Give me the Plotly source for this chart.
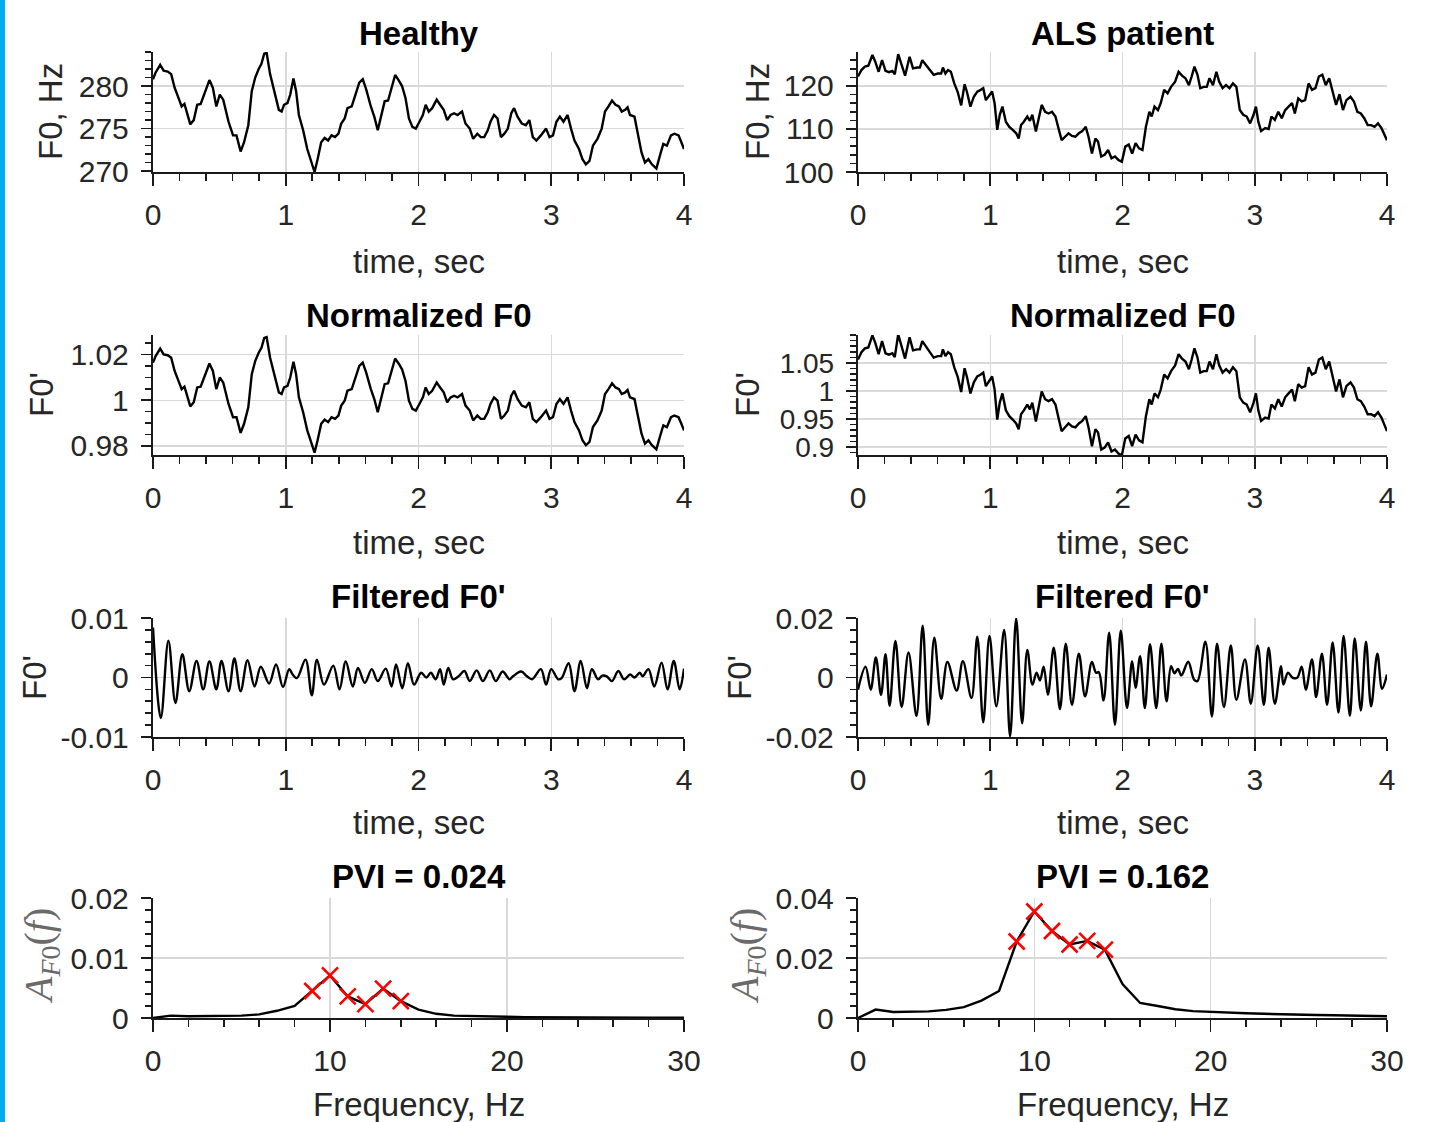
import plotly.graph_objects as go

W, H = 1430, 1122
FONT = "Liberation Sans, Arial, Helvetica, sans-serif"

# ---------------- data ----------------
HEALTHY_F0 = [(0.000,280.8),(0.020,281.6),(0.054,282.5),(0.080,281.8),(0.111,281.7),(0.137,281.4),(0.163,279.8),(0.190,278.6),(0.216,277.6),(0.237,277.9),(0.255,277.0),(0.281,275.5),(0.307,276.0),(0.333,277.8),(0.359,277.9),(0.386,279.0),(0.425,280.7),(0.451,279.8),(0.477,277.6),(0.503,279.0),(0.529,278.4),(0.569,275.8),(0.603,274.2),(0.629,274.2),(0.660,272.3),(0.686,273.4),(0.718,275.4),(0.744,279.4),(0.770,281.0),(0.796,282.0),(0.817,282.6),(0.838,283.8),(0.856,283.9),(0.882,281.4),(0.916,279.4),(0.948,277.2),(0.969,277.0),(0.987,277.8),(1.013,278.0),(1.034,279.0),(1.058,280.9),(1.078,279.4),(1.099,276.6),(1.131,274.8),(1.162,272.6),(1.196,270.8),(1.217,269.9),(1.240,271.4),(1.267,273.4),(1.293,273.9),(1.319,273.6),(1.345,274.2),(1.371,274.0),(1.397,274.4),(1.418,275.6),(1.444,276.2),(1.465,277.4),(1.497,277.6),(1.523,279.0),(1.554,280.4),(1.580,280.8),(1.606,279.6),(1.641,277.6),(1.667,276.4),(1.693,274.8),(1.719,276.4),(1.745,278.2),(1.771,278.3),(1.797,279.8),(1.824,281.3),(1.850,280.7),(1.876,280.0),(1.902,278.6),(1.928,276.2),(1.954,275.2),(1.980,275.0),(2.007,275.8),(2.033,276.6),(2.054,277.8),(2.077,277.0),(2.103,277.4),(2.137,278.4),(2.163,277.8),(2.190,277.2),(2.216,276.0),(2.242,276.6),(2.268,276.8),(2.294,276.6),(2.328,277.0),(2.354,275.6),(2.386,275.0),(2.412,273.8),(2.443,274.4),(2.469,274.0),(2.495,274.0),(2.522,274.8),(2.542,275.8),(2.569,276.6),(2.595,276.2),(2.621,274.0),(2.647,274.4),(2.673,275.0),(2.699,276.8),(2.720,277.4),(2.746,276.4),(2.778,275.6),(2.809,275.4),(2.835,276.0),(2.861,274.0),(2.888,273.6),(2.922,274.2),(2.961,275.0),(2.987,274.0),(3.013,274.2),(3.039,275.8),(3.065,276.4),(3.092,275.8),(3.123,276.6),(3.149,275.0),(3.175,273.6),(3.209,272.6),(3.235,271.4),(3.261,270.8),(3.288,271.2),(3.314,273.0),(3.348,273.8),(3.380,275.0),(3.405,277.0),(3.431,277.6),(3.458,278.3),(3.484,277.8),(3.510,277.6),(3.531,277.0),(3.557,277.2),(3.575,277.5),(3.593,276.6),(3.627,276.4),(3.654,274.2),(3.680,272.2),(3.706,271.0),(3.732,271.4),(3.758,270.8),(3.792,270.3),(3.818,271.8),(3.844,273.2),(3.871,273.0),(3.902,274.2),(3.928,274.4),(3.959,274.2),(3.980,273.4),(4.000,272.6)]

ALS_F0 = [(0.000,122.2),(0.026,123.7),(0.052,124.5),(0.078,124.7),(0.109,127.2),(0.130,125.7),(0.156,123.3),(0.182,126.0),(0.208,123.5),(0.234,123.2),(0.260,123.5),(0.278,122.7),(0.304,127.4),(0.330,124.9),(0.356,122.4),(0.390,126.8),(0.416,124.1),(0.447,124.3),(0.468,124.3),(0.486,126.0),(0.512,125.0),(0.538,124.1),(0.572,122.6),(0.603,122.9),(0.629,122.9),(0.642,124.3),(0.661,122.9),(0.681,123.7),(0.702,123.3),(0.728,120.6),(0.754,118.6),(0.780,115.5),(0.806,120.4),(0.824,118.6),(0.850,115.2),(0.876,117.5),(0.902,118.7),(0.928,119.1),(0.947,119.5),(0.967,116.7),(0.994,117.9),(1.014,118.7),(1.033,116.0),(1.053,109.8),(1.072,113.3),(1.092,115.2),(1.118,111.7),(1.144,110.5),(1.170,109.8),(1.196,109.0),(1.215,107.8),(1.233,110.9),(1.254,111.7),(1.280,112.9),(1.300,111.9),(1.318,113.3),(1.345,109.4),(1.371,113.3),(1.389,115.6),(1.415,114.0),(1.441,113.6),(1.467,114.0),(1.493,112.9),(1.519,109.8),(1.540,107.4),(1.566,108.2),(1.592,109.0),(1.618,108.4),(1.644,108.2),(1.670,109.0),(1.696,109.5),(1.722,110.5),(1.743,108.2),(1.769,104.3),(1.795,107.8),(1.815,107.1),(1.839,103.6),(1.865,104.0),(1.891,105.1),(1.917,103.2),(1.943,103.6),(1.969,102.8),(1.995,102.4),(2.021,105.9),(2.047,106.4),(2.073,104.3),(2.099,106.7),(2.125,105.5),(2.151,105.1),(2.177,110.5),(2.203,114.0),(2.221,112.9),(2.242,115.2),(2.268,114.4),(2.289,116.0),(2.315,119.1),(2.341,118.3),(2.367,119.8),(2.398,121.0),(2.424,123.3),(2.450,122.4),(2.476,121.8),(2.502,120.2),(2.523,122.2),(2.544,124.5),(2.567,122.6),(2.588,119.5),(2.614,119.8),(2.637,119.8),(2.658,121.8),(2.684,120.2),(2.710,123.3),(2.731,121.0),(2.757,119.5),(2.783,120.2),(2.809,119.5),(2.835,120.6),(2.861,119.8),(2.887,114.4),(2.913,113.3),(2.939,112.9),(2.965,111.3),(2.991,113.3),(3.009,115.2),(3.027,111.7),(3.048,109.5),(3.079,110.2),(3.105,110.0),(3.126,112.9),(3.152,112.1),(3.178,114.0),(3.204,112.5),(3.230,114.4),(3.256,115.2),(3.282,116.0),(3.303,113.6),(3.329,117.1),(3.355,116.4),(3.381,116.7),(3.407,120.6),(3.433,119.1),(3.459,119.5),(3.485,122.2),(3.511,122.6),(3.537,120.2),(3.563,121.8),(3.589,118.7),(3.615,115.6),(3.641,118.1),(3.667,114.4),(3.693,116.7),(3.724,117.5),(3.750,116.4),(3.776,114.0),(3.802,113.6),(3.828,112.5),(3.854,110.9),(3.880,110.9),(3.906,110.5),(3.932,111.3),(3.958,110.2),(4.000,107.4)]

HEALTHY_MEAN_F0 = 276.25
ALS_MEAN_F0 = 115.7

HEALTHY_FILT = [(0.000,0.0084),(0.059,-0.0068),(0.116,0.0062),(0.169,-0.0043),(0.221,0.0039),(0.273,-0.0023),(0.328,0.0028),(0.378,-0.0020),(0.425,0.0027),(0.477,-0.0020),(0.516,0.0028),(0.569,-0.0023),(0.613,0.0032),(0.660,-0.0023),(0.712,0.0029),(0.765,-0.0015),(0.812,0.0018),(0.875,-0.0010),(0.927,0.0022),(0.979,-0.0016),(1.026,0.0014),(1.052,0.0005),(1.084,-0.0001),(1.149,0.0030),(1.196,-0.0030),(1.235,0.0030),(1.288,-0.0012),(1.358,0.0020),(1.405,-0.0020),(1.452,0.0027),(1.505,-0.0015),(1.544,0.0016),(1.596,-0.0009),(1.648,0.0014),(1.693,-0.0006),(1.753,0.0015),(1.797,-0.0015),(1.831,0.0022),(1.878,-0.0018),(1.920,0.0024),(1.967,-0.0012),(2.020,0.0008),(2.059,0.0000),(2.093,0.0008),(2.129,-0.0003),(2.163,0.0014),(2.190,-0.0012),(2.224,0.0016),(2.260,-0.0003),(2.302,0.0002),(2.346,0.0011),(2.386,-0.0006),(2.438,0.0012),(2.485,-0.0006),(2.537,0.0012),(2.582,-0.0006),(2.634,0.0010),(2.686,-0.0003),(2.712,0.0002),(2.773,0.0010),(2.817,0.0002),(2.856,-0.0003),(2.922,0.0014),(2.961,-0.0012),(3.000,0.0014),(3.052,-0.0003),(3.078,-0.0001),(3.131,0.0024),(3.175,-0.0023),(3.222,0.0028),(3.269,-0.0018),(3.306,0.0014),(3.353,-0.0003),(3.384,0.0003),(3.418,0.0002),(3.458,-0.0006),(3.505,0.0011),(3.549,-0.0003),(3.594,0.0005),(3.627,0.0000),(3.667,0.0008),(3.688,0.0002),(3.732,0.0014),(3.776,-0.0015),(3.831,0.0025),(3.876,-0.0020),(3.923,0.0028),(3.967,-0.0020),(4.000,0.0015)]

ALS_FILT = [(0.000,-0.0041),(0.057,0.0036),(0.096,-0.0041),(0.135,0.0067),(0.174,-0.0058),(0.208,0.0078),(0.239,-0.0095),(0.283,0.0123),(0.330,-0.0099),(0.382,0.0084),(0.442,-0.0129),(0.489,0.0174),(0.531,-0.0159),(0.577,0.0134),(0.629,-0.0072),(0.676,0.0052),(0.746,-0.0044),(0.793,0.0055),(0.858,-0.0069),(0.902,0.0137),(0.947,-0.0151),(0.994,0.0140),(1.046,-0.0097),(1.105,0.0160),(1.150,-0.0198),(1.196,0.0199),(1.241,-0.0154),(1.280,0.0093),(1.319,-0.0024),(1.350,0.0016),(1.376,-0.0010),(1.404,0.0036),(1.436,-0.0058),(1.480,0.0100),(1.527,-0.0106),(1.571,0.0114),(1.618,-0.0092),(1.670,0.0080),(1.717,-0.0063),(1.769,0.0052),(1.800,0.0016),(1.821,0.0018),(1.857,-0.0077),(1.899,0.0151),(1.943,-0.0159),(1.987,0.0157),(2.034,-0.0103),(2.073,0.0055),(2.099,-0.0035),(2.133,0.0072),(2.169,-0.0103),(2.208,0.0112),(2.255,-0.0103),(2.294,0.0114),(2.333,-0.0080),(2.367,0.0038),(2.393,0.0014),(2.419,0.0029),(2.445,0.0007),(2.497,0.0053),(2.541,-0.0007),(2.567,-0.0012),(2.627,0.0120),(2.676,-0.0131),(2.715,0.0114),(2.767,-0.0099),(2.819,0.0108),(2.861,-0.0075),(2.926,0.0061),(2.970,-0.0088),(3.022,0.0108),(3.069,-0.0092),(3.105,0.0100),(3.152,-0.0088),(3.199,0.0038),(3.217,-0.0024),(3.251,0.0016),(3.287,-0.0001),(3.321,-0.0001),(3.355,0.0036),(3.386,-0.0041),(3.433,0.0061),(3.464,-0.0066),(3.508,0.0080),(3.547,-0.0092),(3.589,0.0118),(3.633,-0.0118),(3.672,0.0140),(3.719,-0.0129),(3.756,0.0131),(3.802,-0.0111),(3.841,0.0120),(3.880,-0.0097),(3.927,0.0080),(3.963,-0.0038),(4.000,0.0010)]

FREQ = list(range(0, 31))
HEALTHY_SPEC = [0, 0.0004, 0.0003, 0.0003, 0.0003, 0.0004, 0.0006, 0.0012, 0.0020, 0.0045, 0.0071, 0.0036, 0.0023, 0.0049, 0.0028, 0.0014, 0.0007, 0.0004, 0.0003, 0.0002, 0.0002, 0.00015, 0.00012, 0.0001, 0.0001, 0.0001, 0.00008, 0.00007, 0.00006, 0.00005, 0.00005]
ALS_SPEC = [0, 0.0028, 0.0020, 0.0020, 0.0022, 0.0027, 0.0036, 0.0058, 0.0090, 0.0255, 0.0355, 0.0290, 0.0245, 0.0257, 0.0228, 0.0113, 0.0050, 0.0040, 0.0029, 0.0023, 0.0020, 0.0018, 0.0016, 0.0014, 0.0012, 0.0011, 0.0010, 0.0009, 0.0008, 0.0007, 0.0006]
PEAK_FREQ = [9, 10, 11, 12, 13, 14]
HEALTHY_PEAKS = [0.0045, 0.0071, 0.0036, 0.0023, 0.0049, 0.0028]
ALS_PEAKS = [0.0255, 0.0355, 0.0290, 0.0245, 0.0257, 0.0228]

TIME_TICKS = [0, 1, 2, 3, 4]
FREQ_TICKS = [0, 10, 20, 30]

# ---------------- helpers ----------------
def unzip(pairs):
    return [p[0] for p in pairs], [p[1] for p in pairs]

def xd(a, b):
    return [a / W, b / W]

def yd(top, bottom):
    return [1 - bottom / H, 1 - top / H]

def px(x):
    return x / W

def py(y):
    return 1 - y / H

ht, hf = unzip(HEALTHY_F0)
at, af = unzip(ALS_F0)
hn = [v / HEALTHY_MEAN_F0 for v in hf]
an = [v / ALS_MEAN_F0 for v in af]
hft, hfv = unzip(HEALTHY_FILT)
aft, afv = unzip(ALS_FILT)

COLS = {"L": (153, 684), "R": (858, 1387)}
ROWS = [(52, 172), (335, 455), (618, 737), (898, 1018)]

panels = [
    (0, "L", ht, hf, [0, 4], [269.9, 284.0], TIME_TICKS, 0.2, [270, 275, 280], ["270", "275", "280"], 1, "linear", 30),
    (0, "R", at, af, [0, 4], [100, 127.9], TIME_TICKS, 0.2, [100, 110, 120], ["100", "110", "120"], 2, "linear", 30),
    (1, "L", ht, hn, [0, 4], [0.976, 1.0286], TIME_TICKS, 0.2, [0.98, 1.0, 1.02], ["0.98", "1", "1.02"], 0.005, "linear", 30),
    (1, "R", at, an, [0, 4], [0.8857, 1.1], TIME_TICKS, 0.2, [0.9, 0.95, 1.0, 1.05], ["0.9", "0.95", "1", "1.05"], 0.01, "linear", 28),
    (2, "L", hft, hfv, [0, 4], [-0.01, 0.01], TIME_TICKS, 0.2, [-0.01, 0, 0.01], ["-0.01", "0", "0.01"], 0.002, "spline", 30),
    (2, "R", aft, afv, [0, 4], [-0.02, 0.02], TIME_TICKS, 0.2, [-0.02, 0, 0.02], ["-0.02", "0", "0.02"], 0.004, "spline", 30),
    (3, "L", FREQ, HEALTHY_SPEC, [0, 30], [0, 0.02], FREQ_TICKS, 2, [0, 0.01, 0.02], ["0", "0.01", "0.02"], 0.002, "linear", 30),
    (3, "R", FREQ, ALS_SPEC, [0, 30], [0, 0.04], FREQ_TICKS, 2, [0, 0.02, 0.04], ["0", "0.02", "0.04"], 0.004, "linear", 30),
]

AXC = "#1a1a1a"
TICKC = "#262626"
GRIDC = "#d9d9d9"

fig = go.Figure()
layout = dict(
    template="none",
    width=W, height=H,
    autosize=False,
    margin=dict(l=0, r=0, t=0, b=0, pad=0, autoexpand=False),
    paper_bgcolor="white", plot_bgcolor="white",
    showlegend=False,
    font=dict(family=FONT, color=TICKC),
)

for i, (r, c, xs, ys, xr, yr, xt, xmin, yt, ytt, ymin, shape, yfs) in enumerate(panels, start=1):
    top, bot = ROWS[r]
    a, b = COLS[c]
    xa = "x" if i == 1 else f"x{i}"
    ya = "y" if i == 1 else f"y{i}"
    fig.add_trace(go.Scatter(
        x=xs, y=ys, xaxis=xa, yaxis=ya, mode="lines",
        line=dict(color="black", width=2.4, shape=shape),
        hoverinfo="skip", showlegend=False,
    ))
    layout[f"xaxis{i if i > 1 else ''}"] = dict(
        domain=xd(a, b), range=xr, anchor=ya, automargin=False,
        showline=True, linecolor=AXC, linewidth=2.2,
        ticks="outside", ticklen=12, tickwidth=1.6, tickcolor=AXC,
        tickmode="array", tickvals=xt, ticktext=[str(v) for v in xt],
        tickfont=dict(size=30, color=TICKC, family=FONT),
        ticklabelstandoff=3,
        showgrid=True, gridcolor=GRIDC, gridwidth=1.5, zeroline=False,
        minor=dict(ticks="outside", ticklen=7, tickwidth=1.6, tickcolor=AXC,
                   tickmode="linear", tick0=0, dtick=xmin, showgrid=False),
        fixedrange=True,
    )
    layout[f"yaxis{i if i > 1 else ''}"] = dict(
        domain=yd(top, bot), range=yr, anchor=xa, automargin=False,
        showline=True, linecolor=AXC, linewidth=2.2,
        ticks="outside", ticklen=10, tickwidth=1.6, tickcolor=AXC,
        tickmode="array", tickvals=yt, ticktext=ytt,
        tickfont=dict(size=yfs, color=TICKC, family=FONT),
        ticklabelstandoff=6,
        showgrid=True, gridcolor=GRIDC, gridwidth=1.5, zeroline=False,
        minor=dict(ticks="outside", ticklen=6, tickwidth=1.6, tickcolor=AXC,
                   tickmode="linear", tick0=yt[0], dtick=ymin, showgrid=False),
        fixedrange=True,
    )

# peak markers on spectra
fig.add_trace(go.Scatter(x=PEAK_FREQ, y=HEALTHY_PEAKS, xaxis="x7", yaxis="y7", mode="markers",
                         marker=dict(symbol="x-thin", size=16, color="red", line=dict(color="red", width=2.6)),
                         hoverinfo="skip", showlegend=False, cliponaxis=False))
fig.add_trace(go.Scatter(x=PEAK_FREQ, y=ALS_PEAKS, xaxis="x8", yaxis="y8", mode="markers",
                         marker=dict(symbol="x-thin", size=16, color="red", line=dict(color="red", width=2.6)),
                         hoverinfo="skip", showlegend=False, cliponaxis=False))

annotations = []
TITLES = [["Healthy", "ALS patient"], ["Normalized F0", "Normalized F0"],
          ["Filtered F0'", "Filtered F0'"], ["PVI = 0.024", "PVI = 0.162"]]
TITLE_Y = [33, 315, 596, 876]
XLABELS = ["time, sec", "time, sec", "time, sec", "Frequency, Hz"]
XLABEL_Y = [261, 542, 822, 1104]
YLABELS = ["F0, Hz", "F0'", "F0'", "<i>A</i><sub><i>F</i>0</sub>(<i>f</i>)"]
YLABEL_X = {"L": [50, 41, 34, 41], "R": [757, 747, 739, 747]}
ROW_MID = [112, 395, 678, 956]

for r in range(4):
    for c in ("L", "R"):
        a, b = COLS[c]
        cx = (a + b) / 2
        annotations.append(dict(text="<b>" + TITLES[r][0 if c == "L" else 1] + "</b>",
                                x=px(cx), y=py(TITLE_Y[r]), xref="paper", yref="paper",
                                xanchor="center", yanchor="middle", showarrow=False,
                                font=dict(size=33, color="black", family=FONT)))
        annotations.append(dict(text=XLABELS[r], x=px(cx), y=py(XLABEL_Y[r]), xref="paper", yref="paper",
                                xanchor="center", yanchor="middle", showarrow=False,
                                font=dict(size=33, color=TICKC, family=FONT)))
        if r == 3:
            yfont = dict(size=40, color="#6a6a6a", family="Liberation Serif, DejaVu Serif, serif")
        else:
            yfont = dict(size=33, color=TICKC, family=FONT)
        annotations.append(dict(text=YLABELS[r], x=px(YLABEL_X[c][r]), y=py(ROW_MID[r]),
                                xref="paper", yref="paper", xanchor="center", yanchor="middle",
                                textangle=-90, showarrow=False, font=yfont))

layout["annotations"] = annotations
layout["shapes"] = [dict(type="rect", xref="paper", yref="paper", x0=0, x1=5 / W, y0=0, y1=1,
                         fillcolor="#00AEEF", line=dict(width=0), layer="below")]

fig.update_layout(**layout)
fig.write_html("out.html",
               config={"displayModeBar": False, "staticPlot": True},
               post_script="document.body.style.margin='0px';document.body.style.padding='0px';document.body.style.overflow='hidden';")
